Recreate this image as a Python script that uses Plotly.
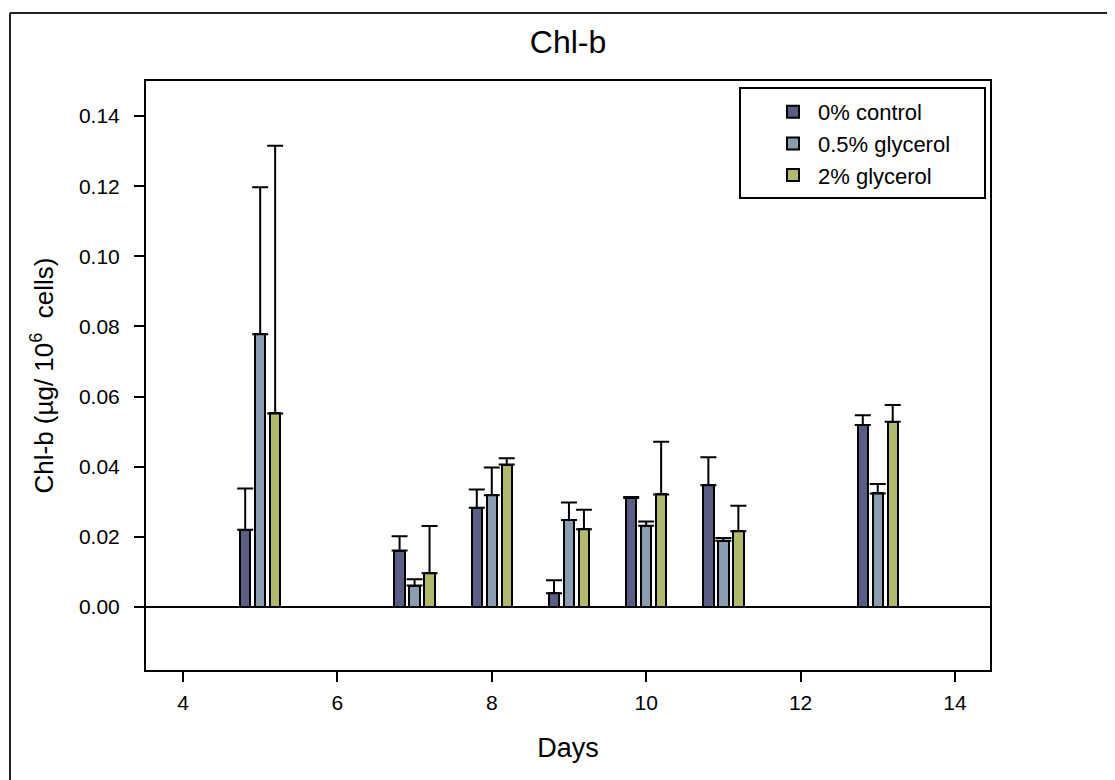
import plotly.graph_objects as go

days = [5, 7, 8, 9, 10, 11, 13]
series_names = ["0% control", "0.5% glycerol", "2% glycerol"]
control = [0.0220, 0.0161, 0.0283, 0.0039, 0.0311, 0.0347, 0.0519]
control_err = [0.0118, 0.0041, 0.0052, 0.0037, 0.0003, 0.0080, 0.0028]
glyc05 = [0.0778, 0.0061, 0.0319, 0.0248, 0.0232, 0.0189, 0.0324]
glyc05_err = [0.0419, 0.0018, 0.0079, 0.0050, 0.0012, 0.0008, 0.0027]
glyc2 = [0.0552, 0.0096, 0.0406, 0.0222, 0.0321, 0.0216, 0.0528]
glyc2_err = [0.0763, 0.0135, 0.0018, 0.0055, 0.0150, 0.0073, 0.0048]

colors = ["#5a5d84", "#8a9cb0", "#b2ba69"]
offsets = [-0.2615, -0.0675, 0.1265]
bar_w = 0.135

FONT = "Arial, Liberation Sans, sans-serif"

fig = go.Figure()
for name, vals, errs, col, off in zip(series_names, [control, glyc05, glyc2],
                                      [control_err, glyc05_err, glyc2_err], colors, offsets):
    fig.add_trace(go.Bar(
        x=days, y=vals, name=name, width=bar_w, offset=off,
        marker=dict(color=col, line=dict(color="black", width=2)),
        error_y=dict(type="data", symmetric=False, array=errs,
                     arrayminus=[0] * len(errs), color="black", thickness=2, width=8),
    ))

# page body has an 8px default margin: build the figure 8px smaller
SHIFT = 8
W, H = 1115 - SHIFT, 780 - SHIFT
PL, PR, PT, PB = 146, 990, 81, 670          # plot area in screen pixels
L, T = PL - SHIFT, PT - SHIFT
pw, ph = PR - PL, PB - PT
R, B = W - L - pw, H - T - ph

def px(x):  # screen x -> paper
    return (x - PL) / pw

def py(y):  # screen y -> paper
    return (PB - y) / ph

shapes = [
    # figure frame (left and top edges visible)
    dict(type="line", xref="paper", yref="paper", x0=px(10), x1=px(10), y0=py(13), y1=py(800),
         line=dict(color="#222", width=2)),
    dict(type="line", xref="paper", yref="paper", x0=px(10), x1=px(1130), y0=py(13), y1=py(13),
         line=dict(color="#222", width=2)),
    # legend box
    dict(type="rect", xref="paper", yref="paper", x0=px(740), x1=px(985), y0=py(88), y1=py(198),
         line=dict(color="black", width=2), fillcolor="white", layer="below"),
]

fig.update_layout(
    width=W, height=H,
    margin=dict(l=L, r=R, t=T, b=B),
    paper_bgcolor="white", plot_bgcolor="white",
    font=dict(family=FONT, color="black", size=20),
    title=dict(text="Chl-b", x=0.5, xanchor="center", xref="paper",
               y=1 - (42 - SHIFT) / H, yanchor="middle", font=dict(size=32, family=FONT)),
    showlegend=True,
    legend=dict(x=px(768), y=py(91), xanchor="left", yanchor="top",
                bgcolor="rgba(0,0,0,0)", borderwidth=0, font=dict(size=22, family=FONT),
                tracegroupgap=0, itemwidth=40),
    shapes=shapes,
    bargap=0,
)

fig.update_xaxes(range=[3.521, 14.454], tick0=4, dtick=2, ticks="outside", ticklen=10,
                 tickwidth=2, tickcolor="black", showline=True, linecolor="black", linewidth=2,
                 mirror=True, showgrid=False, zeroline=False, ticklabelstandoff=3,
                 tickfont=dict(size=21, family=FONT),
                 title=dict(text="Days", font=dict(size=27, family=FONT), standoff=25))
fig.update_yaxes(range=[-0.01796, 0.14998], tick0=0, dtick=0.02, tickformat=".2f",
                 ticks="outside", ticklen=10, tickwidth=2, tickcolor="black",
                 showline=True, linecolor="black", linewidth=2, mirror=True,
                 showgrid=False, zeroline=True, zerolinecolor="black", zerolinewidth=2,
                 ticklabelstandoff=10,
                 tickfont=dict(size=21, family=FONT),
                 title=dict(text="Chl-b (µg/\u00a010<sup>6</sup>\u00a0\u00a0cells)",
                            font=dict(size=26, family=FONT), standoff=18))

fig.write_html("out.html")
